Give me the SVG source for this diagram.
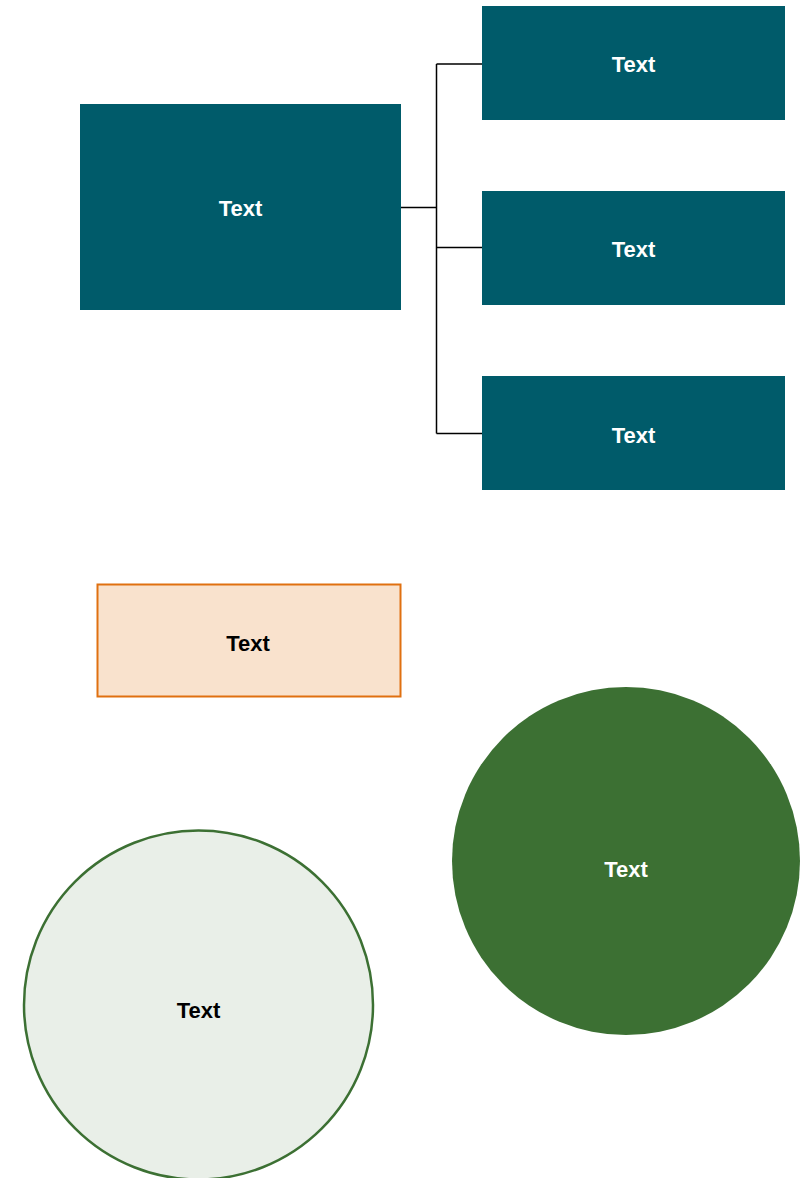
<svg xmlns="http://www.w3.org/2000/svg" width="805" height="1178" viewBox="0 0 805 1178">
<style>
.teal{fill:#005B6A;}
.lbl{font-family:"Liberation Sans",Arial,sans-serif;font-weight:bold;font-size:22px;text-anchor:middle;dominant-baseline:central;}
.w{fill:#FFFFFF;}
.k{fill:#000000;}
.conn{fill:none;stroke:#000000;stroke-width:1.5;}
</style>
<rect width="805" height="1178" fill="#FFFFFF"/>
<g id="connectors">
<path class="conn" d="M401,207.5 H436.5 M436.5,64 V433.5 M436.5,64 H482 M436.5,247.5 H482 M436.5,433.5 H482"/>
</g>
<g id="main">
<rect class="teal" x="80" y="104" width="321" height="206"/>
<text class="lbl w" x="240.5" y="208">Text</text>
</g>
<g id="child1">
<rect class="teal" x="482" y="6" width="303" height="114"/>
<text class="lbl w" x="633.5" y="64">Text</text>
</g>
<g id="child2">
<rect class="teal" x="482" y="191" width="303" height="114"/>
<text class="lbl w" x="633.5" y="249">Text</text>
</g>
<g id="child3">
<rect class="teal" x="482" y="376" width="303" height="114"/>
<text class="lbl w" x="633.5" y="435">Text</text>
</g>
<g id="orange">
<rect x="97.5" y="584.5" width="303" height="112" fill="#F9E2CD" stroke="#E07010" stroke-width="2"/>
<text class="lbl k" x="248" y="643">Text</text>
</g>
<g id="darkcircle">
<circle cx="626" cy="861" r="174" fill="#3C7033"/>
<text class="lbl w" x="626" y="869">Text</text>
</g>
<g id="lightcircle">
<circle cx="198.5" cy="1005" r="174.5" fill="#E9EFE8" stroke="#3C7033" stroke-width="2.5"/>
<text class="lbl k" x="198.5" y="1010">Text</text>
</g>
</svg>
